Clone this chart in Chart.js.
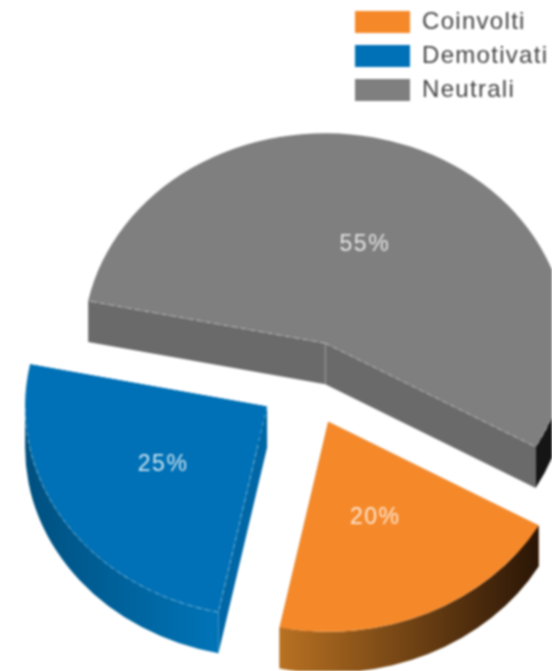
<!DOCTYPE html>
<html>
<head>
<meta charset="utf-8">
<title>Coinvolti, Demotivati, Neutrali</title>
<script src="https://cdn.jsdelivr.net/npm/chart.js@4"></script>
<style>
  html, body { margin: 0; padding: 0; background: #fff; overflow: hidden; }
  canvas { display: block; filter: blur(0.8px); }
</style>
</head>
<body>
<canvas id="pieChart" width="552" height="671"></canvas>
<script>
const categories = ["Coinvolti", "Demotivati", "Neutrali"];
const values = [20, 25, 55];

const topColors = ["#f5892a", "#0071b6", "#7f7f7f"];
const cutColors = ["#b87122", "#0067a6", "#6a6a6a"];
const rimColors = [["#b87122", "#2a1506"], ["#00507f", "#0074b8"], ["#151515", "#151515"]];

// look of the tilted pie
const TILT = 0.868;
const DEPTH = 41;
const EXPLODE = 49;

// which cut edges show the thin dashed highlight
const dashedEdges = [[], ["startAngle"], ["startAngle", "endAngle"]];

function visibleRimParts(arc) {
  // the outer wall only shows on the front half of the pie
  const parts = [];
  for (const turn of [0, Math.PI * 2]) {
    const from = Math.max(arc.startAngle, turn);
    const to = Math.min(arc.endAngle, turn + Math.PI);
    if (to > from) parts.push([from, to]);
  }
  return parts;
}

function drawSlice(ctx, arc, i) {
  const mid = (arc.startAngle + arc.endAngle) / 2;
  const depth = DEPTH / TILT;
  const r = arc.outerRadius;

  ctx.save();
  ctx.translate(arc.x, arc.y);
  ctx.scale(1, TILT);
  ctx.translate(-arc.x, -arc.y);
  ctx.translate(Math.cos(mid) * EXPLODE, Math.sin(mid) * EXPLODE);

  // cut faces, the top face hides the ones turned away
  ctx.fillStyle = cutColors[i];
  for (const angle of [arc.startAngle, arc.endAngle]) {
    const ex = arc.x + Math.cos(angle) * r;
    const ey = arc.y + Math.sin(angle) * r;
    ctx.beginPath();
    ctx.moveTo(arc.x, arc.y);
    ctx.lineTo(ex, ey);
    ctx.lineTo(ex, ey + depth);
    ctx.lineTo(arc.x, arc.y + depth);
    ctx.closePath();
    ctx.fill();
  }

  // outer wall
  const parts = visibleRimParts(arc);
  for (const [from, to] of parts) {
    const x0 = arc.x + Math.cos(to) * r;
    const x1 = arc.x + Math.cos(from) * r;
    const grad = ctx.createLinearGradient(x0, 0, x1, 0);
    grad.addColorStop(0, rimColors[i][0]);
    grad.addColorStop(1, rimColors[i][1]);
    ctx.fillStyle = grad;
    ctx.beginPath();
    ctx.arc(arc.x, arc.y, r, from, to);
    ctx.arc(arc.x, arc.y + depth, r, to, from, true);
    ctx.closePath();
    ctx.fill();
  }

  // top face comes from the library
  arc.draw(ctx);

  // thin light highlights on the edges
  ctx.strokeStyle = "rgba(255,255,255,0.4)";
  ctx.lineWidth = 1;
  ctx.setLineDash([5, 4]);
  for (const key of dashedEdges[i]) {
    ctx.beginPath();
    ctx.moveTo(arc.x, arc.y);
    ctx.lineTo(arc.x + Math.cos(arc[key]) * r, arc.y + Math.sin(arc[key]) * r);
    ctx.stroke();
  }
  if (i > 0) {
    for (const [from, to] of parts) {
      ctx.beginPath();
      ctx.arc(arc.x, arc.y, r, from, to);
      ctx.stroke();
    }
  }
  if (i === 2) {
    ctx.setLineDash([]);
    ctx.strokeStyle = "rgba(255,255,255,0.25)";
    ctx.beginPath();
    ctx.moveTo(arc.x, arc.y);
    ctx.lineTo(arc.x, arc.y + depth);
    ctx.stroke();
  }
  ctx.restore();
}

const tiltedPie = {
  id: "tiltedPie",
  beforeDraw(chart) {
    // legend sits in the top right corner, over the chart
    const legend = chart.legend;
    legend.left = 345;
    legend.top = 0;
    chart.ctx.letterSpacing = "1.3px";
  },
  beforeDatasetsDraw(chart) {
    const ctx = chart.ctx;
    const arcs = chart.getDatasetMeta(0).data;
    [2, 1, 0].forEach((i) => drawSlice(ctx, arcs[i], i));

    ctx.save();
    ctx.fillStyle = "rgba(255,255,255,0.8)";
    ctx.font = '23px "Liberation Sans"';
    ctx.letterSpacing = "1.5px";
    ctx.textAlign = "center";
    ctx.textBaseline = "middle";
    arcs.forEach((arc, i) => {
      const mid = (arc.startAngle + arc.endAngle) / 2;
      const dist = EXPLODE + arc.outerRadius / 2;
      const x = arc.x + Math.cos(mid) * dist - 3;
      const y = arc.y + Math.sin(mid) * dist * TILT;
      ctx.fillText(values[i] + "%", x, y);
    });
    ctx.restore();
    return false;
  },
};

new Chart(document.getElementById("pieChart").getContext("2d"), {
  type: "pie",
  data: {
    labels: categories,
    datasets: [
      {
        data: values,
        backgroundColor: topColors,
        borderWidth: 0,
      },
    ],
  },
  options: {
    responsive: false,
    animation: false,
    rotation: 119.6,
    radius: 242,
    layout: { padding: { left: 64, top: 95, right: 0, bottom: 0 } },
    plugins: {
      tooltip: { enabled: false },
      legend: {
        position: "chartArea",
        align: "start",
        labels: {
          boxWidth: 55,
          boxHeight: 22,
          padding: 10,
          color: "#444",
          font: { family: '"Liberation Sans"', size: 24 },
        },
      },
    },
  },
  plugins: [tiltedPie],
});
</script>
</body>
</html>
